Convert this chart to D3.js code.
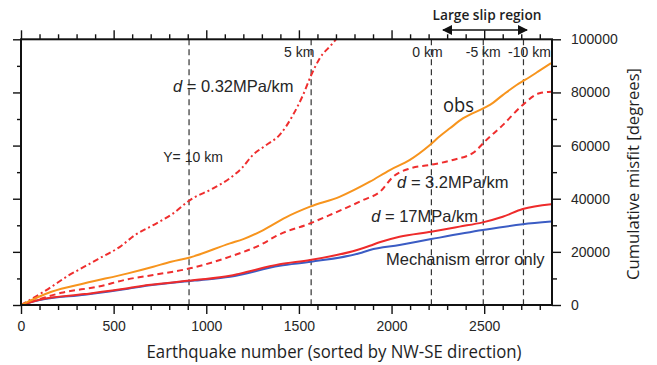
<!DOCTYPE html>
<html>
<head>
<meta charset="utf-8">
<script src="https://cdn.jsdelivr.net/npm/d3@7/dist/d3.min.js"></script>
<style>
  html, body { margin: 0; padding: 0; background: #fff; }
  svg { display: block; }
  text { font-family: "Liberation Sans", Arial, sans-serif; fill: #262626; }
  .title { font-family: "Open Sans", "Noto Sans", sans-serif; fill: #1e1e1e; }
</style>
</head>
<body>
<svg id="chart" width="657" height="365"></svg>
<script>
// Cumulative misfit versus earthquake number (sorted NW -> SE)
const xTicks = [0, 500, 1000, 1500, 2000, 2500];
const yTicks = [0, 20000, 40000, 60000, 80000, 100000];

// observed
const obsN = [0, 164, 344, 577, 714, 810, 912, 1128, 1200, 1308, 1430, 1560, 1722, 1883, 1991, 2099, 2207, 2260, 2315, 2387, 2495, 2531, 2600, 2675, 2720, 2790, 2861];
const obsV = [0, 5000, 8200, 11900, 14400, 16300, 17900, 23200, 24800, 28200, 33000, 37000, 40800, 46400, 50800, 54600, 60200, 63500, 66500, 70300, 74000, 75300, 79000, 82800, 84700, 87800, 91000];

// d = 3.2 MPa/km
const d32N = [0, 100, 218, 416, 577, 714, 912, 1128, 1308, 1378, 1560, 1668, 1847, 1937, 2009, 2099, 2207, 2331, 2449, 2503, 2600, 2708, 2798, 2861];
const d32V = [0, 2200, 4600, 6900, 9700, 11300, 13800, 18200, 23200, 26000, 30700, 33900, 39500, 42600, 48300, 51400, 52700, 54600, 57700, 61500, 67700, 75300, 79700, 80300];

// d = 0.32 MPa/km
const d032N = [0, 146, 254, 344, 416, 534, 615, 714, 822, 912, 1037, 1127, 1190, 1252, 1324, 1396, 1468, 1522, 1567, 1612, 1675, 1710];
const d032V = [0, 6000, 11000, 14500, 17300, 21900, 26300, 30100, 34500, 39500, 43900, 47700, 51400, 56500, 60200, 64000, 71500, 79000, 86600, 92800, 97900, 100800];

// d = 17 MPa/km
const d17N = [0, 100, 344, 577, 686, 938, 1128, 1181, 1396, 1560, 1827, 1883, 1935, 2043, 2214, 2367, 2492, 2600, 2708, 2861];
const d17V = [0, 2000, 4100, 6300, 7500, 9400, 11000, 11800, 15300, 16900, 21000, 22300, 23600, 25700, 27600, 29500, 31100, 33200, 36100, 37900];

// mechanism error only
const mechN = [0, 100, 344, 577, 686, 938, 1128, 1396, 1567, 1827, 1883, 2043, 2214, 2492, 2708, 2861];
const mechV = [0, 1900, 3900, 6100, 7300, 9200, 10600, 14800, 16300, 19500, 20700, 22600, 24800, 28200, 30400, 31400];

// source depth markers along the sequence
const depthN = [907, 1566, 2215, 2495, 2712];
const depthLabels = ["Y= 10 km", "5 km", "0 km", "-5 km", "-10 km"];

const svg = d3.select("#chart");
const x = d3.scaleLinear().domain([0, 2866]).range([21, 552]);
const y = d3.scaleLinear().domain([0, 100000]).range([305, 39.3]);

const defs = svg.append("defs");
defs.append("clipPath").attr("id", "plotclip")
  .append("rect").attr("x", 21).attr("y", 39.3).attr("width", 531).attr("height", 265.7);
const mk = defs.append("marker").attr("id", "ah").attr("viewBox", "0 0 10 10")
  .attr("refX", 9).attr("refY", 5).attr("markerWidth", 10).attr("markerHeight", 10)
  .attr("markerUnits", "userSpaceOnUse").attr("orient", "auto-start-reverse");
mk.append("path").attr("d", "M0,0 L10,5 L0,10 Z").attr("fill", "#111");

// axes with minor ticks
const xMinor = d3.range(0, 2866, 100).filter(v => v % 500 !== 0);
const yMinor = d3.range(10000, 100000, 20000);
function styleAxis(g) {
  g.select(".domain").remove();
  g.selectAll(".tick line").attr("stroke", "#111").attr("stroke-width", 1.4);
}
function styleLabels(g) {
  g.selectAll("text").attr("font-size", 14).attr("fill", "#262626")
    .attr("font-family", "Liberation Sans, Arial, sans-serif");
}
svg.append("g").attr("transform", "translate(0,305)")
  .call(d3.axisBottom(x).tickValues(xTicks).tickSize(9).tickPadding(7).tickFormat(d3.format("d")))
  .call(styleAxis).call(styleLabels);
svg.append("g").attr("transform", "translate(0,305)")
  .call(d3.axisBottom(x).tickValues(xMinor).tickSize(5).tickFormat(""))
  .call(styleAxis);
svg.append("g").attr("transform", "translate(0,39.3)")
  .call(d3.axisTop(x).tickValues(xTicks).tickSize(9).tickFormat(""))
  .call(styleAxis);
svg.append("g").attr("transform", "translate(0,39.3)")
  .call(d3.axisTop(x).tickValues(xMinor).tickSize(5).tickFormat(""))
  .call(styleAxis);
svg.append("g").attr("transform", "translate(21,0)")
  .call(d3.axisLeft(y).tickValues(yTicks).tickSize(8).tickFormat(""))
  .call(styleAxis);
svg.append("g").attr("transform", "translate(21,0)")
  .call(d3.axisLeft(y).tickValues(yMinor).tickSize(4).tickFormat(""))
  .call(styleAxis);
svg.append("g").attr("transform", "translate(552,0)")
  .call(d3.axisRight(y).tickValues(yTicks).tickSize(9).tickPadding(10).tickFormat(d3.format("d")))
  .call(styleAxis).call(styleLabels);
svg.append("g").attr("transform", "translate(552,0)")
  .call(d3.axisRight(y).tickValues(yMinor).tickSize(5).tickFormat(""))
  .call(styleAxis);

// depth markers
svg.append("g").selectAll("line").data(depthN).join("line")
  .attr("x1", d => x(d)).attr("x2", d => x(d))
  .attr("y1", y(100000)).attr("y2", y(0))
  .attr("stroke", "#333").attr("stroke-width", 1.2).attr("stroke-dasharray", "6,4");

// curves
const line = d3.line().x(d => x(d[0])).y(d => y(d[1])).curve(d3.curveMonotoneX);
const series = [
  { n: mechN, v: mechV, color: "#3b5cc4", dash: null },
  { n: d17N, v: d17V, color: "#ee2b2b", dash: null },
  { n: d32N, v: d32V, color: "#ef2e2e", dash: "6,4" },
  { n: d032N, v: d032V, color: "#ef2e2e", dash: "6,3,2,3" },
  { n: obsN, v: obsV, color: "#f7941d", dash: null }
];
svg.append("g").attr("clip-path", "url(#plotclip)")
  .selectAll("path").data(series).join("path")
  .attr("d", s => line(s.n.map((n, i) => [n, s.v[i]])))
  .attr("fill", "none").attr("stroke", s => s.color).attr("stroke-width", 2)
  .attr("stroke-linejoin", "round")
  .attr("stroke-dasharray", s => s.dash);

// frame
svg.append("rect").attr("x", 21).attr("y", 39.3).attr("width", 531).attr("height", 265.7)
  .attr("fill", "none").attr("stroke", "#111").attr("stroke-width", 2);

// depth labels
const depthLabelPos = [
  { dx: 4, y: 162 },
  { dx: -12, y: 57 },
  { dx: -4, y: 57 },
  { dx: 0, y: 57 },
  { dx: 6, y: 57 }
];
svg.append("g").selectAll("text").data(depthN).join("text")
  .attr("x", (d, i) => x(d) + depthLabelPos[i].dx)
  .attr("y", (d, i) => depthLabelPos[i].y)
  .attr("text-anchor", "middle")
  .attr("font-size", 14)
  .text((d, i) => depthLabels[i]);

// curve labels
function dLabel(xp, yp, rest) {
  const t = svg.append("text").attr("x", xp).attr("y", yp).attr("font-size", 16.5);
  t.append("tspan").attr("font-style", "italic").text("d");
  t.append("tspan").text(" = " + rest);
}
dLabel(x(820), 92, "0.32MPa/km");
dLabel(x(2030), 188, "3.2MPa/km");
dLabel(x(1890), 222, "17MPa/km");
svg.append("text").attr("x", x(1970)).attr("y", 265).attr("font-size", 16.5).text("Mechanism error only");
svg.append("text").attr("class", "title").attr("x", 443).attr("y", 112).attr("font-size", 20)
  .attr("textLength", 31).attr("lengthAdjust", "spacingAndGlyphs").text("obs");

// large slip region annotation
svg.append("line").attr("x1", 443).attr("x2", 527).attr("y1", 30).attr("y2", 30)
  .attr("stroke", "#111").attr("stroke-width", 1.6)
  .attr("marker-start", "url(#ah)").attr("marker-end", "url(#ah)");
svg.append("text").attr("class", "title").attr("x", 487).attr("y", 20).attr("text-anchor", "middle")
  .attr("font-size", 14).attr("font-weight", 600)
  .attr("textLength", 109).attr("lengthAdjust", "spacingAndGlyphs").text("Large slip region");

// axis titles
svg.append("text").attr("class", "title").attr("x", 334).attr("y", 358).attr("text-anchor", "middle")
  .attr("font-size", 18).attr("textLength", 375).attr("lengthAdjust", "spacingAndGlyphs")
  .text("Earthquake number (sorted by NW-SE direction)");
svg.append("text").attr("class", "title")
  .attr("transform", "translate(639,174) rotate(-90)").attr("text-anchor", "middle")
  .attr("font-size", 16).attr("textLength", 212).attr("lengthAdjust", "spacingAndGlyphs")
  .text("Cumulative misfit [degrees]");
</script>
</body>
</html>
